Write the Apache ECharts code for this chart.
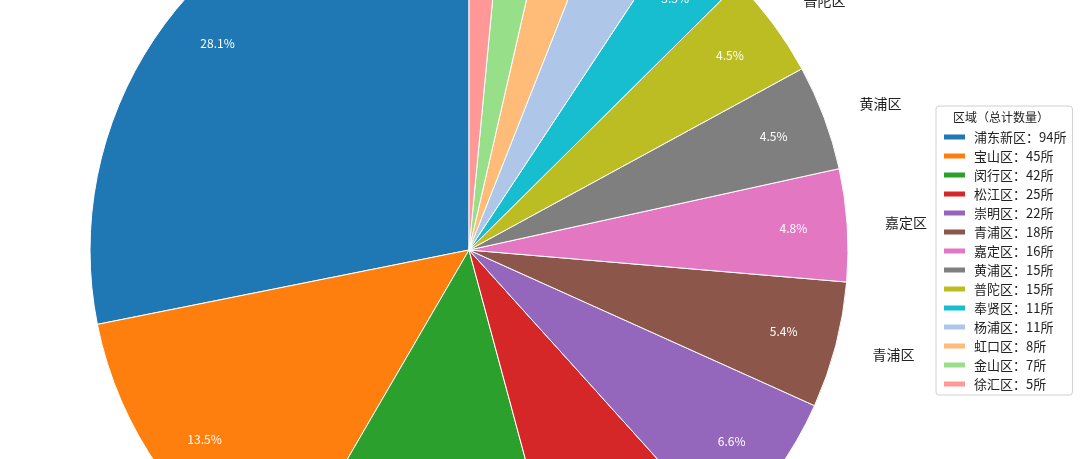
<!DOCTYPE html>
<html>
<head>
<meta charset="utf-8">
<script src="https://cdn.jsdelivr.net/npm/echarts/dist/echarts.min.js"></script>
<style>
html, body { margin: 0; padding: 0; background: #fff; }
#main { width: 1080px; height: 459px; }
</style>
</head>
<body>
<div id="main"></div>
<script>
var districts = ['浦东新区', '宝山区', '闵行区', '松江区', '崇明区', '青浦区', '嘉定区',
    '黄浦区', '普陀区', '奉贤区', '杨浦区', '虹口区', '金山区', '徐汇区'];
var counts = [94, 45, 42, 25, 22, 18, 16, 15, 15, 11, 11, 8, 7, 5];
var colors = ['#1f77b4', '#ff7f0e', '#2ca02c', '#d62728', '#9467bd', '#8c564b', '#e377c2',
    '#7f7f7f', '#bcbd22', '#17becf', '#aec7e8', '#ffbb78', '#98df8a', '#ff9896'];
var legendTitle = '区域（总计数量）';

var chartDom = document.getElementById('main');
var myChart = echarts.init(chartDom);
var option;

var R = 379;
var total = counts.reduce(function (a, b) { return a + b; }, 0);
var font = '"Noto Sans CJK SC", "DejaVu Sans", sans-serif';

var data = districts.map(function (name, i) {
    return { name: name, value: counts[i], itemStyle: { color: colors[i] } };
});

var pctData = districts.map(function (name, i) {
    return { name: name, value: counts[i] };
});

option = {
    backgroundColor: '#fff',
    color: colors,
    animation: false,
    legend: {
        orient: 'vertical',
        left: 936,
        top: 106,
        padding: [24, 6, 4, 6],
        itemWidth: 23,
        itemHeight: 7,
        itemGap: 5,
        icon: 'rect',
        borderColor: '#d0d0d0',
        borderWidth: 1,
        borderRadius: 3,
        data: districts,
        formatter: function (name) {
            return name + '：' + counts[districts.indexOf(name)] + '所';
        },
        textStyle: {
            fontFamily: font,
            fontSize: 13,
            lineHeight: 14,
            color: '#222',
            padding: [0, 0, 0, 3]
        }
    },
    graphic: [{
        type: 'text',
        x: 1001,
        y: 117,
        z: 100,
        style: {
            text: legendTitle,
            align: 'center',
            verticalAlign: 'middle',
            font: '12px ' + font,
            fill: '#222'
        }
    }],
    series: [{
        type: 'pie',
        center: [469, 250],
        radius: [0, R],
        startAngle: 90,
        clockwise: false,
        avoidLabelOverlap: false,
        data: data,
        itemStyle: { borderColor: '#fff', borderWidth: 1 },
        emphasis: { disabled: true },
        label: {
            position: 'outside',
            formatter: '{b}',
            color: '#222',
            fontSize: 14,
            fontFamily: font,
            distanceToLabelLine: 0
        },
        labelLine: { show: false, length: 0.1 * R, length2: 0 }
    }, {
        type: 'pie',
        center: [469, 250],
        radius: [0.7 * R, R],
        startAngle: 90,
        clockwise: false,
        avoidLabelOverlap: false,
        silent: true,
        data: pctData,
        itemStyle: { color: 'rgba(0,0,0,0)', borderWidth: 0 },
        emphasis: { disabled: true },
        label: {
            position: 'inside',
            formatter: function (p) {
                return (p.value / total * 100).toFixed(1) + '%';
            },
            color: '#fff',
            fontSize: 12,
            fontFamily: font
        },
        labelLine: { show: false }
    }]
};

option && myChart.setOption(option);
</script>
</body>
</html>
